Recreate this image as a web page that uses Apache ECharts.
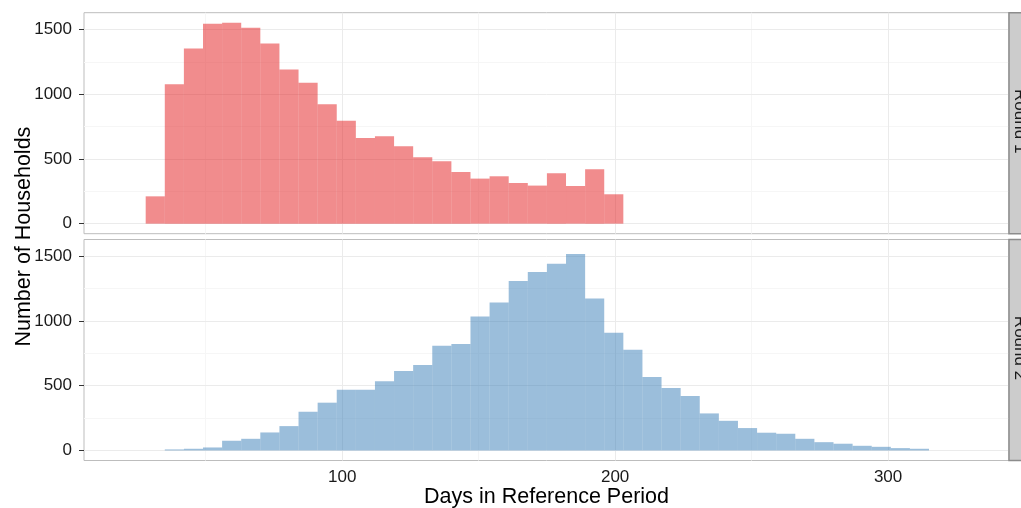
<!DOCTYPE html>
<html>
<head>
<meta charset="utf-8">
<script src="https://cdn.jsdelivr.net/npm/echarts@6/dist/echarts.min.js"></script>
<style>
html,body{margin:0;padding:0;background:#fff;}
#chart{width:1021px;height:508px;}
</style>
</head>
<body>
<div id="chart"></div>
<script>
// ---- data (bin starts in days, counts of households) ----
const BIN_WIDTH = 7;
const round1Starts = [28,35,42,49,56,63,70,77,84,91,98,105,112,119,126,133,140,147,154,161,168,175,182,189,196];
const round1Counts = [211,1077,1353,1544,1552,1513,1392,1191,1088,923,794,662,675,598,513,482,399,348,366,314,294,389,291,420,227];
const round2Starts = [35,42,49,56,63,70,77,84,91,98,105,112,119,126,133,140,147,154,161,168,175,182,189,196,203,210,217,224,231,238,245,252,259,266,273,280,287,294,301,308];
const round2Counts = [8,13,23,75,90,139,188,299,369,469,469,534,613,660,809,822,1034,1142,1309,1379,1443,1518,1173,910,778,567,482,420,286,229,173,137,129,90,64,52,36,28,18,13];
const panelLabels = ['Round 1','Round 2'];
const yTicks = [0,500,1000,1500];
const yMinor = [250,750,1250];
const xTicks = [100,200,300];
const xMinor = [50,150,250];
const xTitle = 'Days in Reference Period';
const yTitle = 'Number of Households';

const FONT = '"Liberation Sans", Arial, sans-serif';
const X_MIN = 5.4, X_MAX = 344.3;
const Y_MIN = -77.6, Y_MAX = 1629.6;
const GRID_LEFT = 84, GRID_W = 925, GRID_H = 221;
const tops = [12.7, 239.5];
const colors = ['rgba(228,26,28,0.5)', 'rgba(55,126,184,0.5)'];

const chart = echarts.init(document.getElementById('chart'), null, {renderer:'canvas'});

const grids = tops.map(t => ({left: GRID_LEFT, top: t, width: GRID_W, height: GRID_H,
  show: true, borderColor: '#BDBDBD', borderWidth: 1, backgroundColor: '#fff', containLabel: false}));

const plain = v => String(v);
const xAxes = [0,1].map(i => ({
  type: 'value', gridIndex: i, min: X_MIN, max: X_MAX,
  axisLine: {show: false},
  splitLine: {show: false},
  axisTick: {show: i === 1, length: 5, lineStyle: {color: '#333', width: 1}, customValues: xTicks},
  axisLabel: {show: i === 1, customValues: xTicks, formatter: plain, fontFamily: FONT, fontSize: 17, color: '#1a1a1a', margin: 8}
}));
const yAxes = [0,1].map(i => ({
  type: 'value', gridIndex: i, min: Y_MIN, max: Y_MAX,
  axisLine: {show: false},
  splitLine: {show: false},
  axisTick: {show: true, length: 5, lineStyle: {color: '#333', width: 1}, customValues: yTicks},
  axisLabel: {show: true, customValues: yTicks, formatter: plain, fontFamily: FONT, fontSize: 17, color: '#1a1a1a', margin: 12}
}));

function gridLineData() {
  const d = [];
  const minor = {color: '#F6F6F6', width: 1, type: 'solid'};
  const major = {color: '#EBEBEB', width: 1, type: 'solid'};
  yMinor.forEach(v => d.push({yAxis: v, lineStyle: minor}));
  xMinor.forEach(v => d.push({xAxis: v, lineStyle: minor}));
  yTicks.forEach(v => d.push({yAxis: v, lineStyle: major}));
  xTicks.forEach(v => d.push({xAxis: v, lineStyle: major}));
  return d;
}

const starts = [round1Starts, round2Starts];
const counts = [round1Counts, round2Counts];
const series = [];
[0,1].forEach(i => {
  series.push({
    type: 'line', xAxisIndex: i, yAxisIndex: i, data: [], z: 1, silent: true,
    markLine: {z: 1, silent: true, symbol: ['none','none'], label: {show: false}, animation: false,
      lineStyle: {type: 'solid'}, emphasis: {disabled: true}, data: gridLineData()}
  });
  series.push({
    type: 'custom', xAxisIndex: i, yAxisIndex: i, z: 5, silent: true, animation: false,
    data: starts[i].map((s, k) => [s, counts[i][k]]),
    renderItem: (params, api) => {
      const x0 = api.value(0), y = api.value(1);
      const p0 = api.coord([x0, y]);
      const p1 = api.coord([x0 + BIN_WIDTH, 0]);
      return {type: 'rect', shape: {x: p0[0], y: p0[1], width: p1[0] - p0[0], height: p1[1] - p0[1]},
        style: {fill: colors[i], stroke: null}};
    }
  });
});

const graphics = [];
tops.forEach((t, i) => {
  graphics.push({type: 'rect', shape: {x: 1009, y: t, width: 40, height: GRID_H},
    style: {fill: '#CCCCCC', stroke: '#8C8C8C', lineWidth: 1.5}, z: 10});
  graphics.push({type: 'text', x: 1020, y: t + GRID_H / 2 - 2, rotation: -Math.PI / 2, z: 11,
    style: {text: panelLabels[i], fontFamily: FONT, fontSize: 17, fill: '#1a1a1a', align: 'center', verticalAlign: 'middle'}});
});
graphics.push({type: 'text', x: GRID_LEFT + GRID_W / 2, y: 497.5, z: 11,
  style: {text: xTitle, fontFamily: FONT, fontSize: 21.5, fill: '#000', align: 'center', verticalAlign: 'middle'}});
graphics.push({type: 'text', x: 24, y: (tops[0] + tops[1] + GRID_H) / 2, rotation: Math.PI / 2, z: 11,
  style: {text: yTitle, fontFamily: FONT, fontSize: 21.5, fill: '#000', align: 'center', verticalAlign: 'middle'}});

chart.setOption({
  animation: false,
  backgroundColor: '#fff',
  grid: grids,
  xAxis: xAxes,
  yAxis: yAxes,
  series: series,
  graphic: graphics
});
</script>
</body>
</html>
